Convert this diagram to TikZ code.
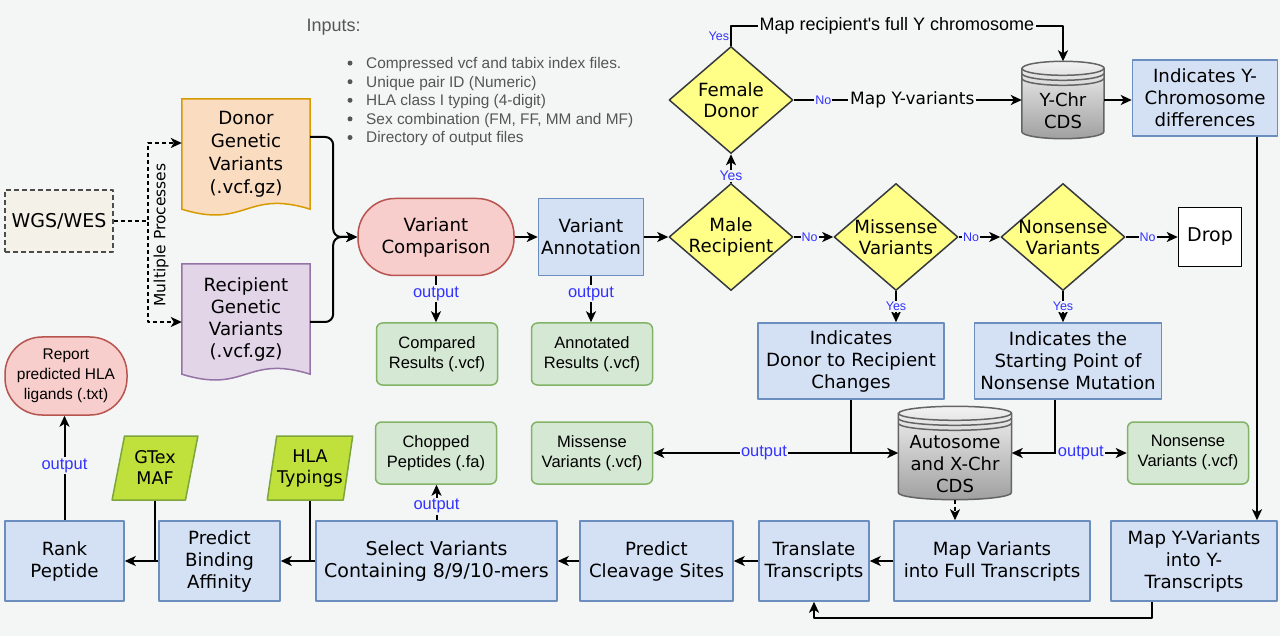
\documentclass[tikz,border=0pt]{standalone}
\usepackage{fontspec}
\setmainfont{DejaVu Sans}
\newfontfamily\arialf{Liberation Sans}
\usetikzlibrary{arrows.meta,shapes.geometric,calc}
\definecolor{pagebg}{RGB}{244,246,245}
\definecolor{procfill}{RGB}{212,225,245}
\definecolor{procline}{RGB}{108,142,191}
\definecolor{outfill}{RGB}{213,232,212}
\definecolor{outline}{RGB}{130,179,102}
\definecolor{termfill}{RGB}{248,206,204}
\definecolor{termline}{RGB}{184,84,80}
\definecolor{decfill}{RGB}{255,255,136}
\definecolor{decline}{RGB}{54,57,61}
\definecolor{donfill}{RGB}{250,220,192}
\definecolor{donline}{RGB}{215,155,0}
\definecolor{recfill}{RGB}{225,213,231}
\definecolor{recline}{RGB}{150,115,166}
\definecolor{wgsfill}{RGB}{243,241,232}
\definecolor{datfill}{RGB}{192,224,60}
\definecolor{datline}{RGB}{125,165,60}
\definecolor{drumtop}{RGB}{242,242,242}
\definecolor{drumbot}{RGB}{160,160,160}
\definecolor{drumline}{RGB}{100,100,100}
\definecolor{labblue}{RGB}{51,51,255}
\definecolor{inputgray}{RGB}{85,85,85}
\pgfdeclarelayer{back}
\pgfdeclarelayer{background}
\pgfsetlayers{back,background,main}
% wavy document outline behind a node
\newcommand{\docback}[2]{%
  \begin{pgfonlayer}{background}
    \draw[#2, line width=1.5pt] (#1.north west) -- (#1.north east) -- (#1.south east)
      .. controls ($(#1.south)+(0,-20)$) and ($(#1.south)+(0,20)$) .. (#1.south west) -- cycle;
  \end{pgfonlayer}}
% database drum: name, centre, half width, half height, text
\newcommand{\drum}[5]{%
  \node[inner sep=0pt, minimum width={2*#3}, minimum height={2*#4}] (#1) at #2 {};
  \begin{pgfonlayer}{background}
    \shadedraw[top color=drumtop, bottom color=drumbot, draw=drumline, line width=1.5pt]
      ($(#1.north west)+(0,7)$) -- ($(#1.south west)+(0,-7)$)
      arc[start angle=180, end angle=360, x radius=#3pt, y radius=7pt]
      -- ($(#1.north east)+(0,7)$)
      arc[start angle=0, end angle=180, x radius=#3pt, y radius=7pt] -- cycle;
    \foreach \r in {0,5,10}
      \draw[drumline, line width=1.5pt] ($(#1.north west)+(0,7+\r)$)
        arc[start angle=180, end angle=360, x radius=#3pt, y radius=7pt];
  \end{pgfonlayer}
  \node[align=center, inner sep=0pt, font=\fontsize{18}{22}\selectfont] (#1txt) at ($(#1)+(0,11)$) {#5};}
\begin{document}
\begin{tikzpicture}[x=1pt, y=-1pt, line join=round, >={Stealth[length=11pt,width=10pt,inset=3pt]},
  proc/.style={draw=procline, fill=procfill, line width=1.5pt, align=center, inner sep=0pt, font=\fontsize{18.2}{22}\selectfont},
  outfile/.style={draw=outline, fill=outfill, rounded corners=6pt, line width=1.5pt, align=center, minimum width=121pt, minimum height=62pt, inner sep=0pt, font=\arialf\fontsize{16.5}{20}\selectfont},
  term/.style={draw=termline, fill=termfill, rounded corners=37pt, line width=1.5pt, align=center, inner sep=0pt},
  decide/.style={diamond, draw=decline, fill=decfill, line width=1.5pt, aspect=1.16, inner sep=-4pt, minimum width=124pt, minimum height=107pt, align=center, font=\fontsize{18.2}{21}\selectfont},
  datain/.style={trapezium, trapezium left angle=76, trapezium right angle=104, trapezium stretches=true, draw=datline, fill=datfill, line width=1.5pt, minimum width=86pt, minimum height=64pt, inner sep=0pt, align=center, font=\fontsize{17.5}{21}\selectfont},
  conn/.style={->, line width=2pt},
  dconn/.style={->, line width=2pt, dash pattern=on 4pt off 3pt},
  outlab/.style={text=labblue, fill=pagebg, inner sep=1.5pt, font=\arialf\fontsize{16.5}{18}\selectfont},
  yn/.style={text=labblue, fill=pagebg, inner sep=1pt, font=\arialf\fontsize{12.5}{14}\selectfont}]
\begin{pgfonlayer}{back}
  \fill[pagebg] (0,0) rectangle (1280,636);
\end{pgfonlayer}
\useasboundingbox (0,0) rectangle (1280,636);

% inputs
\node[anchor=west, text=inputgray, font=\arialf\fontsize{18}{20}\selectfont] (inputs) at (303,27) {Inputs:};
\foreach \t [count=\i] in {{Compressed vcf and tabix index files.}, {Unique pair ID (Numeric)}, {HLA class I typing (4-digit)}, {Sex combination (FM, FF, MM and MF)}, {Directory of output files}}{
  \fill[inputgray] (350,{44.5+18.6*\i}) circle (2.5pt);
  \node[anchor=base west, inner sep=0pt, text=inputgray, font=\arialf\fontsize{15.4}{18}\selectfont] (item\i) at (366,{50+18.6*\i}) {\t};
}

% sources
\node[draw=black!70, dash pattern=on 5pt off 3pt, fill=wgsfill, line width=1.5pt, minimum width=108pt, minimum height=62pt, inner sep=0pt, font=\fontsize{19}{22}\selectfont] (wgs) at (59,221) {WGS/WES};
\node[minimum width=128pt, minimum height=110pt, inner sep=0pt, align=center, font=\fontsize{18.2}{23}\selectfont] (donor) at (246,154) {Donor\\Genetic\\Variants\\(.vcf.gz)};
\docback{donor}{draw=donline, fill=donfill}
\node[minimum width=128pt, minimum height=110pt, inner sep=0pt, align=center, font=\fontsize{18.2}{22}\selectfont] (recip) at (246,319) {Recipient\\Genetic\\Variants\\(.vcf.gz)};
\docback{recip}{draw=recline, fill=recfill}
\draw[dconn] (wgs.east) -- ++(34,0) |- ([yshift=11pt]donor.west);
\draw[dconn] (wgs.east) -- ++(34,0) |- ([yshift=-3pt]recip.west);
\node[rotate=90, font=\fontsize{15.5}{18}\selectfont] (multi) at (161,235) {Multiple Processes};

% comparison and annotation
\node[term, minimum width=156pt, minimum height=77pt, font=\fontsize{18.2}{22}\selectfont] (vc) at (436,237) {Variant\\Comparison};
\node[proc, minimum width=105pt, minimum height=77pt] (va) at (591,237) {Variant\\Annotation};
\node[outfile] (cres) at (437,354) {Compared\\Results (.vcf)};
\node[outfile] (ares) at (592,354) {Annotated\\Results (.vcf)};
\draw[conn, rounded corners=8pt] ([yshift=17pt]donor.east) -- ++(23,0) |- (vc.west);
\draw[conn, rounded corners=8pt] ([yshift=-3pt]recip.east) -- ++(23,0) |- (vc.west);
\draw[conn] (vc) -- (va);
\draw[conn] (vc.south) -- node[outlab, pos=0.38]{output} (vc.south |- cres.north);
\draw[conn] (va.south) -- node[outlab, pos=0.38]{output} (va.south |- ares.north);

% decisions
\node[decide] (male) at (731,237) {Male\\Recipient};
\node[decide] (female) at (731,100) {Female\\Donor};
\node[decide] (miss) at (896,237) {Missense\\Variants};
\node[decide] (nons) at (1063,237) {Nonsense\\Variants};
\node[draw=black, fill=white, line width=1.5pt, minimum width=63pt, minimum height=59pt, font=\fontsize{19}{22}\selectfont] (drop) at (1210,237) {Drop};
\draw[conn] (va) -- (male);
\draw[conn] (male) -- node[yn, pos=0.25, font=\arialf\fontsize{14}{16}\selectfont]{Yes} (female);
\draw[conn] (male) -- node[yn, pos=0.4]{No} (miss);
\draw[conn] (miss) -- node[yn, pos=0.3]{No} (nons);
\draw[conn] (nons) -- node[yn, pos=0.42]{No} (drop);

% Y chromosome branch
\drum{ychr}{(1063,100)}{41}{38.5}{Y-Chr\\CDS}
\node[proc, minimum width=145pt, minimum height=76pt] (iy) at (1205,98) {Indicates Y-\\Chromosome\\differences};
\draw[conn] (female.north) -- node[yn, left, fill=none, pos=0.45]{Yes} ++(0,-20) -| node[pos=0.25, fill=pagebg, inner sep=2pt, font=\arialf\fontsize{18}{20}\selectfont]{Map recipient's full Y chromosome} (ychr.north);
\draw[conn] (female.east) -- node[yn, pos=0.13]{No} node[pos=0.52, fill=pagebg, inner sep=2pt, font=\fontsize{17}{20}\selectfont]{Map Y-variants} (ychr.west);
\draw[conn] (ychr.east) -- (ychr.east -| iy.west);

% missense and nonsense results
\node[proc, minimum width=186pt, minimum height=76pt] (idr) at (851,361) {Indicates\\Donor to Recipient\\Changes};
\node[proc, minimum width=187pt, minimum height=76pt] (isp) at (1068,361) {Indicates the\\Starting Point of\\Nonsense Mutation};
\draw[conn] (miss.south) -- node[yn]{Yes} (miss.south |- idr.north);
\draw[conn] (nons.south) -- node[yn]{Yes} (nons.south |- isp.north);
\drum{auto}{(955,453)}{56.5}{46.5}{Autosome\\and X-Chr\\CDS}
\node[outfile] (mvar) at (592,453) {Missense\\Variants (.vcf)};
\node[outfile] (nvar) at (1188,453) {Nonsense\\Variants (.vcf)};
\node[outfile] (chop) at (436,453) {Chopped\\Peptides (.fa)};
\draw[conn] (idr.south) |- (auto.west);
\draw[conn] (idr.south) |- node[outlab, pos=0.72]{output} (mvar.east);
\draw[conn] ([xshift=-13pt]isp.south) |- (auto.east);
\draw[conn] ([xshift=-13pt]isp.south) |- node[outlab, pos=0.68]{output} (nvar.west);

% bottom row
\node[proc, minimum width=196pt, minimum height=80pt] (mapv) at (992,561) {Map Variants\\into Full Transcripts};
\node[proc, minimum width=166pt, minimum height=80pt] (mapy) at (1194,561) {Map Y-Variants\\into Y-\\Transcripts};
\node[proc, minimum width=110pt, minimum height=80pt] (trans) at (814,561) {Translate\\Transcripts};
\node[proc, minimum width=153pt, minimum height=80pt] (pcs) at (656.5,561) {Predict\\Cleavage Sites};
\node[proc, minimum width=241pt, minimum height=80pt, font=\fontsize{19}{22}\selectfont] (sel) at (436.5,561) {Select Variants\\Containing 8/9/10-mers};
\node[proc, minimum width=121pt, minimum height=80pt] (pba) at (219.5,561) {Predict\\Binding\\Affinity};
\node[proc, minimum width=119pt, minimum height=80pt] (rank) at (64.5,561) {Rank\\Peptide};
\node[term, minimum width=122pt, minimum height=78pt, font=\arialf\fontsize{15.5}{20}\selectfont] (report) at (66,376) {Report\\predicted HLA\\ligands (.txt)};
\node[datain] (gtex) at (155,468) {GTex\\MAF};
\node[datain] (hla) at (310,468) {HLA\\Typings};
\draw[dconn] (auto.south) -- (auto.south |- mapv.north);
\draw[conn] ([xshift=52pt]iy.south) -- ([xshift=52pt]iy.south |- mapy.north);
\draw[conn] ([xshift=-42pt]mapy.south) -- ++(0,16) -| (trans.south);
\foreach \a/\b in {mapv/trans, trans/pcs, pcs/sel, sel/pba, pba/rank}
  \draw[conn] (\a) -- (\b);
\draw[conn] (sel.north) -- node[outlab, pos=0.4]{output} (sel.north |- chop.south);
\draw[line width=2pt] (gtex.center |- gtex.south) -- (gtex.center |- rank.east);
\draw[line width=2pt] (hla.center |- hla.south) -- (hla.center |- pba.east);
\draw[conn] (rank.north) -- node[outlab, pos=0.52]{output} (rank.north |- report.south);
\end{tikzpicture}
\end{document}
